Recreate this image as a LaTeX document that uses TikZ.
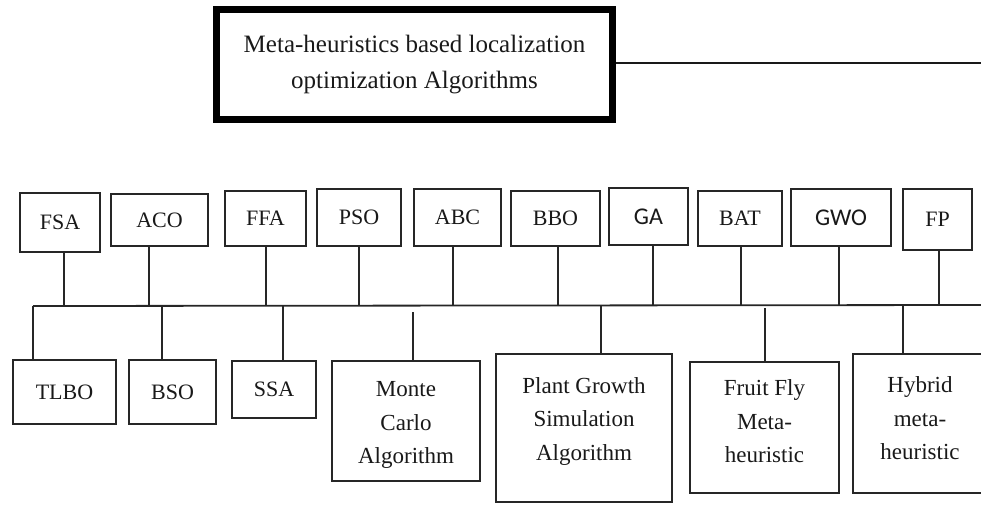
\documentclass[tikz,border=0pt]{standalone}
\usepackage{fontspec}
\setmainfont{Liberation Serif}
\newfontfamily\sansfam{Carlito}
\begin{document}
\begin{tikzpicture}[x=1pt,y=-1pt,
  box/.style={draw=black!85, line width=1.8pt, fill=white, inner sep=0pt,
    align=center, text=black!90},
  lbl/.style={font=\fontsize{22}{26}\selectfont},
  slbl/.style={font=\sansfam\fontsize{24}{28}\selectfont},
  multi/.style={font=\fontsize{23}{33.5}\selectfont, align=center, text=black!90, inner sep=0pt},
  link/.style={draw=black!85, line width=1.8pt},
]
\useasboundingbox (0,0) rectangle (981,504);
\clip (0,0) rectangle (981,504);

% heading box and its line to the right
\node[draw=black, line width=7pt, minimum width=396pt, minimum height=110pt,
      inner sep=0pt, align=center, text=black!90,
      font=\fontsize{25}{36}\selectfont] (title) at (414.5,64.5)
      {Meta-heuristics based localization\\optimization Algorithms};
\coordinate (tEnd) at (981,63);
\draw[draw=black!90, line width=2.6pt] (title.east |- tEnd) -- (tEnd);

% horizontal bus
\coordinate (busL) at (33,306);
\coordinate (busR) at (981,305);
\draw[link] (busL) -- (busR);

% upper row of algorithms
\node[box,lbl,minimum width=80pt, minimum height=59pt] (fsa) at (60,222.5) {FSA};
\node[box,lbl,minimum width=97pt, minimum height=52pt] (aco) at (159.5,220) {ACO};
\node[box,lbl,minimum width=81pt, minimum height=55pt] (ffa) at (265.5,218.5) {FFA};
\node[box,lbl,minimum width=84pt, minimum height=57pt] (pso) at (359,217.5) {PSO};
\node[box,lbl,minimum width=87pt, minimum height=57pt] (abc) at (457.5,217.5) {ABC};
\node[box,lbl,minimum width=89pt, minimum height=55pt] (bbo) at (555.5,218.5) {BBO};
\node[box,slbl,minimum width=79pt, minimum height=57pt] (ga) at (648.5,216.5) {GA};
\node[box,lbl,minimum width=84pt, minimum height=55pt] (bat) at (740,218.5) {BAT};
\node[box,slbl,minimum width=100pt, minimum height=57pt] (gwo) at (841,217.5) {GWO};
\node[box,lbl,minimum width=69pt, minimum height=61pt] (fp) at (937.5,219.5) {FP};

\coordinate (sFSA) at (64,306);
\coordinate (sACO) at (149,306);
\coordinate (sFFA) at (266,306);
\coordinate (sPSO) at (359,306);
\coordinate (sABC) at (453,306);
\coordinate (sBBO) at (558,305);
\coordinate (sGA)  at (653,305);
\coordinate (sBAT) at (741,305);
\coordinate (sGWO) at (839,305);
\coordinate (sFP)  at (939,305);
\foreach \n/\s in {fsa/sFSA, aco/sACO, ffa/sFFA, pso/sPSO, abc/sABC,
                   bbo/sBBO, ga/sGA, bat/sBAT, gwo/sGWO, fp/sFP}
  \draw[link] (\n.south -| \s) -- (\s);

% lower row of algorithms
\node[box,lbl,minimum width=103pt, minimum height=64pt] (tlbo) at (64.5,392) {TLBO};
\node[box,lbl,minimum width=87pt, minimum height=64pt] (bso) at (172.5,392) {BSO};
\node[box,lbl,minimum width=84pt, minimum height=57pt] (ssa) at (274,389.5) {SSA};

\node[box,minimum width=148pt, minimum height=120pt] (mc) at (406,421) {};
\node[multi] (mcText) at ([yshift=-4pt]mc.center) {Monte\\Carlo\\Algorithm};

\node[box,minimum width=176pt, minimum height=148pt] (pgs) at (584,428) {};
\node[multi] (pgsText) at ([yshift=7pt]pgs.center) {Plant Growth\\Simulation\\Algorithm};

\node[box,minimum width=149pt, minimum height=131pt] (ffm) at (764.5,427.5) {};
\node[multi] (ffmText) at ([yshift=6pt]ffm.center) {Fruit Fly\\Meta-\\heuristic};

\node[box,minimum width=134pt, minimum height=139pt] (hyb) at (920,423.5) {};
\node[multi] (hybText) at ([yshift=5pt]hyb.center) {Hybrid\\meta-\\heuristic};

\coordinate (sTLBO) at (33,306);
\coordinate (sBSO)  at (162,306);
\coordinate (sSSA)  at (283,306);
\coordinate (sMC)   at (413,312);
\coordinate (sPGS)  at (601,305);
\coordinate (sFFM)  at (765,308);
\coordinate (sHYB)  at (903,305);
\foreach \n/\s in {tlbo/sTLBO, bso/sBSO, ssa/sSSA, mc/sMC,
                   pgs/sPGS, ffm/sFFM, hyb/sHYB}
  \draw[link] (\s) -- (\n.north -| \s);
\end{tikzpicture}
\end{document}
